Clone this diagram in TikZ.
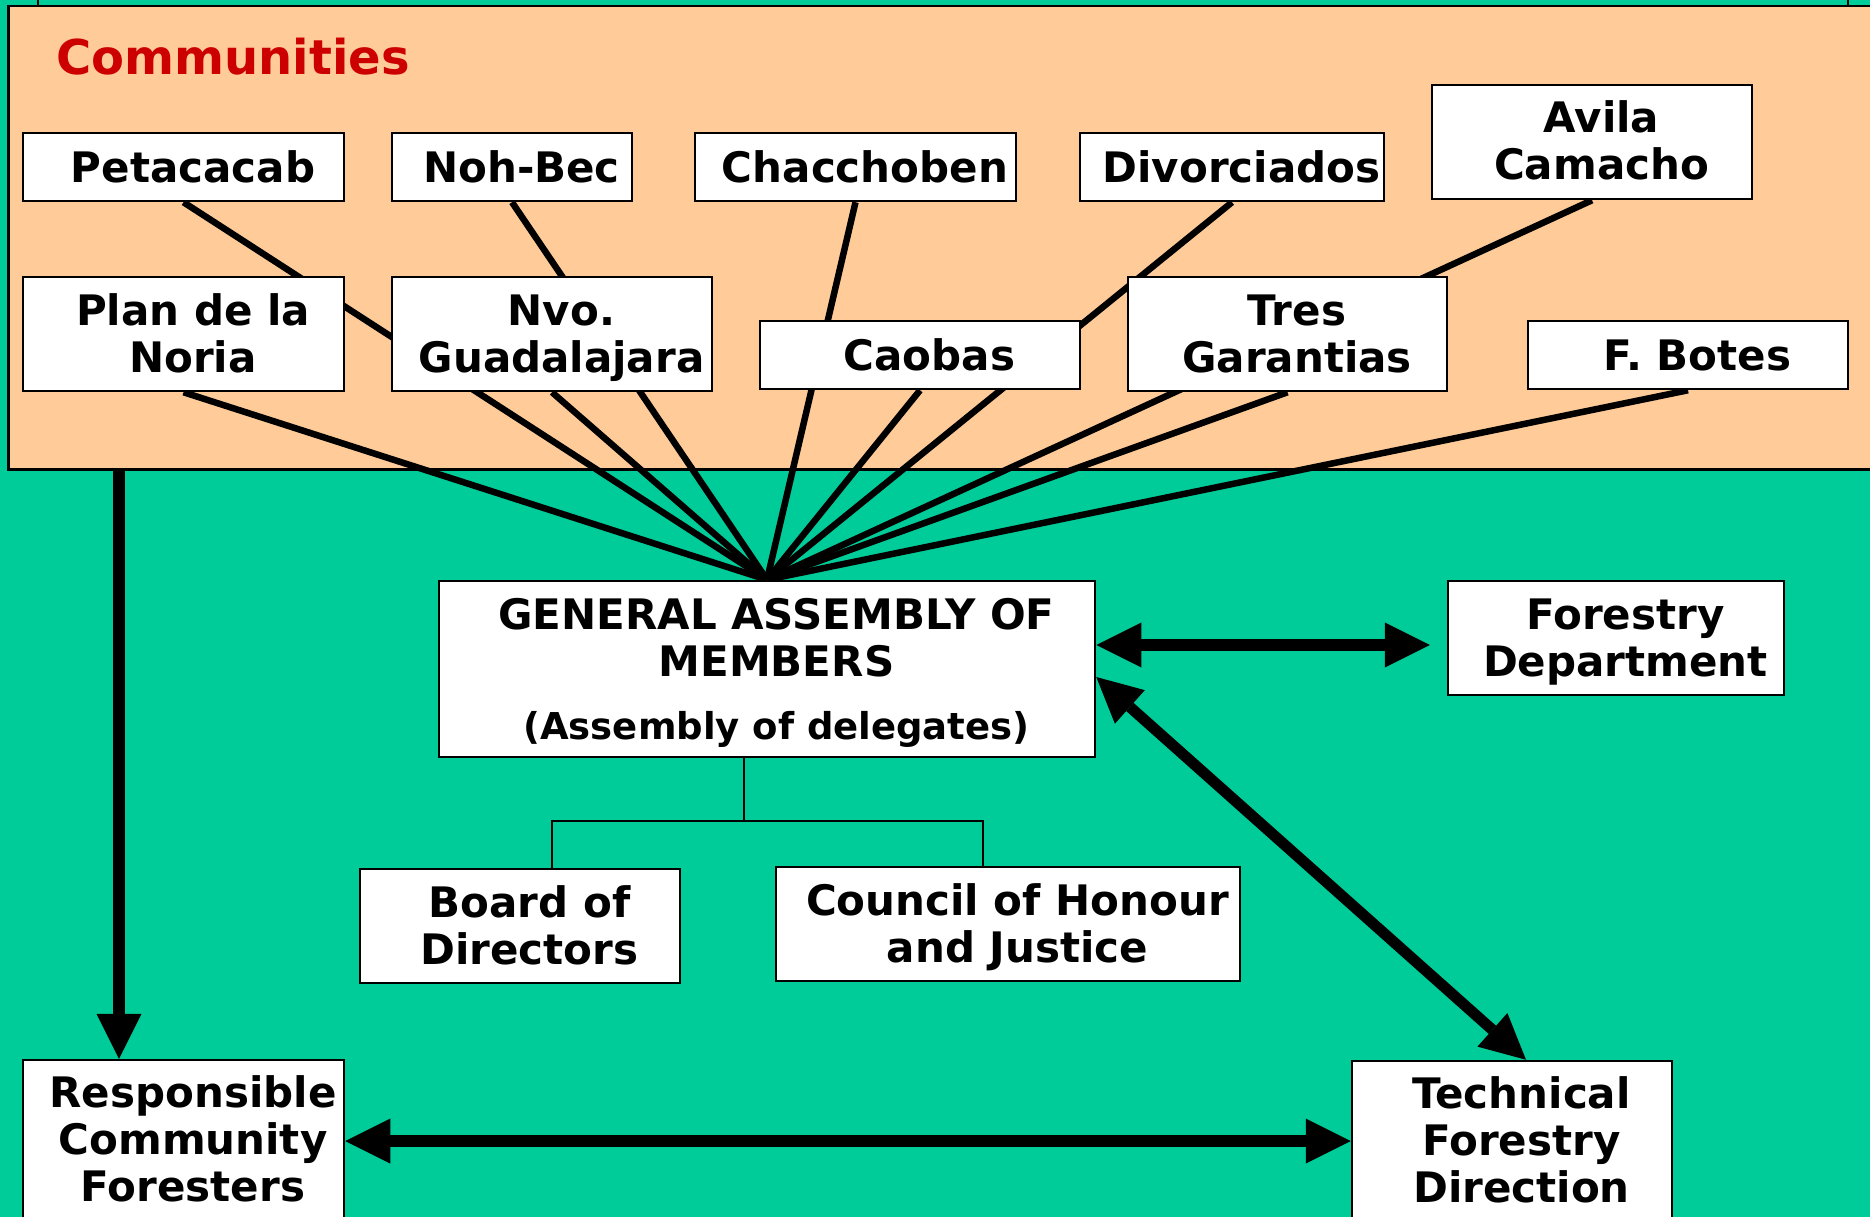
\documentclass[tikz,border=0pt]{standalone}
\usepackage{fontspec}
\setmainfont{DejaVu Sans}
\usetikzlibrary{arrows.meta}
\definecolor{bggreen}{RGB}{0,204,153}
\definecolor{peach}{RGB}{255,204,153}
\definecolor{titlered}{RGB}{204,0,0}
\newcommand\bt[2]{\hspace*{19pt}\raisebox{#1}[0pt][0pt]{\begin{tabular}[t]{@{}c@{}}#2\end{tabular}}}
\pgfdeclarelayer{bg}
\pgfdeclarelayer{lines}
\pgfsetlayers{bg,lines,main}
\begin{document}
\begin{tikzpicture}[x=1pt,y=-1pt,
  box/.style={draw=black, fill=white, line width=2.5pt, inner sep=0pt, rectangle,
    font=\bfseries\fontsize{42}{47}\selectfont},
  fan/.style={line width=6.5pt},
  tree/.style={line width=1.8pt},
  big/.style={line width=12pt, >={Triangle[length=45pt,width=45pt,line width=0pt]}},
  diag/.style={line width=11pt, >={Triangle[length=45pt,width=45pt,line width=0pt]}},
]
\useasboundingbox (0,0) rectangle (1870,1217);

% community boxes
\node[box, minimum width=321, minimum height=68]  (pet) at (183.5,167) {\bt{-15.3pt}{Petacacab}};
\node[box, minimum width=240, minimum height=68]  (noh) at (512,167)   {\bt{-15.3pt}{Noh-Bec}};
\node[box, minimum width=321, minimum height=68]  (cha) at (855.5,167) {\bt{-15.3pt}{Chacchoben}};
\node[box, minimum width=304, minimum height=68]  (div) at (1232,167)  {\bt{-15.3pt}{Divorciados}};
\node[box, minimum width=320, minimum height=114] (avi) at (1592,142)  {\bt{9pt}{Avila\\Camacho}};
\node[box, minimum width=321, minimum height=114] (pla) at (183.5,334) {\bt{8.2pt}{Plan de la\\Noria}};
\node[box, minimum width=320, minimum height=114] (nvo) at (552,334)   {\bt{8.2pt}{Nvo.\\Guadalajara}};
\node[box, minimum width=320, minimum height=68]  (cao) at (920,355)   {\bt{-15.3pt}{Caobas}};
\node[box, minimum width=319, minimum height=114] (tre) at (1287.5,334){\bt{8.2pt}{Tres\\Garantias}};
\node[box, minimum width=320, minimum height=68]  (fbo) at (1688,355)  {\bt{-15.3pt}{F. Botes}};

% organisation boxes
\node[box, minimum width=656, minimum height=176] (ga) at (767,669)
  {\bt{40pt}{GENERAL ASSEMBLY OF\\MEMBERS\\[16pt]\fontsize{37}{43}\selectfont(Assembly of delegates)}};
\node[box, minimum width=336, minimum height=114] (fd) at (1616,638)   {\bt{8.2pt}{Forestry\\Department}};
\node[box, minimum width=320, minimum height=114] (bd) at (520,926)    {\bt{8.2pt}{Board of\\Directors}};
\node[box, minimum width=464, minimum height=114] (co) at (1008,924)   {\bt{8.2pt}{Council of Honour\\and Justice}};
\node[box, minimum width=321, minimum height=158] (resp) at (183.5,1139) {\bt{31.7pt}{Responsible\\Community\\Foresters}};
\node[box, minimum width=320, minimum height=158] (td) at (1512,1140)  {\bt{31.7pt}{Technical\\Forestry\\Direction}};

\begin{pgfonlayer}{bg}
  \fill[bggreen] (-5,-5) rectangle (1880,1225);
  \node[draw=black, fill=peach, line width=2.5pt, inner sep=0pt, anchor=north west,
        minimum width=1890, minimum height=463] (comm) at (7,5) {};
  \draw[line width=1.5pt] (38,-3) -- (38,5);
  \draw[line width=1.5pt] (1848,-3) -- (1848,5);
  \node[anchor=base west, inner sep=0pt, text=titlered,
        font=\bfseries\fontsize{48}{55}\selectfont] (title) at (56,75) {Communities};
\end{pgfonlayer}

\begin{pgfonlayer}{lines}
  \foreach \n in {pet,noh,cha,div,avi,pla,nvo,cao,tre,fbo}
    \draw[fan] (\n.south) -- (ga.north);
  % tree to board and council
  \coordinate (jm) at (744,821);
  \coordinate (jl) at (552,821);
  \coordinate (jr) at (983,821);
  \draw[tree] (ga.south -| jm) -- (jm);
  \draw[tree] (bd.north -| jl) |- (jr) -- (co.north -| jr);
  % arrows
  \coordinate (lv) at (119,0);
  \draw[big,->] (comm.south -| lv) -- (resp.north -| lv);
  \coordinate (ha) at (0,645);
  \draw[big,<->] (ga.east |- ha) -- ([xshift=-17pt]fd.west |- ha);
  \coordinate (d1) at (0,677);
  \coordinate (d2) at (1526,0);
  \draw[diag,<->] (ga.east |- d1) -- (td.north -| d2);
  \coordinate (hb) at (0,1141);
  \draw[big,<->] (resp.east |- hb) -- (td.west |- hb);
\end{pgfonlayer}
\end{tikzpicture}
\end{document}
